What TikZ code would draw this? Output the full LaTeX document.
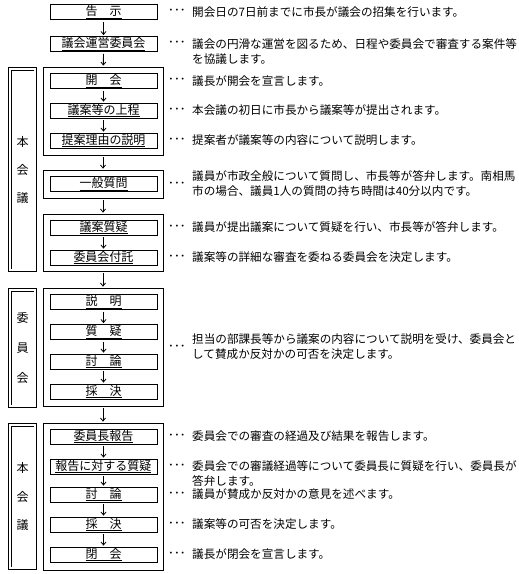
\documentclass[tikz,border=0pt]{standalone}
\usepackage{fontspec}
\newfontfamily\jp{Noto Sans CJK JP}
\usetikzlibrary{arrows.meta}
\begin{document}
\begin{tikzpicture}[x=1pt,y=-1pt,
  stepbox/.style={draw, line width=0.8pt, minimum width=107pt, minimum height=15pt,
    inner sep=0pt, font=\jp\fontsize{12}{12}\selectfont},
  grpbox/.style={draw, line width=0.8pt, minimum width=120pt, inner sep=0pt},
  lblbox/.style={draw, line width=0.7pt, double, double distance=2pt,
    minimum width=25.4pt, inner sep=0pt, align=center},
  dots/.style={anchor=west, inner sep=0pt, font=\jp\fontsize{11.6}{15}\selectfont},
  desc/.style={anchor=west, inner sep=0pt, align=left, font=\jp\fontsize{11.6}{15}\selectfont},
  flow/.style={line width=0.8pt, -{Straight Barb[length=3pt,width=5pt]}, shorten <=2pt, shorten >=1pt}
]
\useasboundingbox (0,0) rectangle (519,574);
\fill[white] (0,0) rectangle (519,574);

% groups
\node[grpbox, minimum height=88pt]  (g1) at (103,111) {};
\node[grpbox, minimum height=28pt]  (g2) at (103,184) {};
\node[grpbox, minimum height=57pt]  (g3) at (103,242.5) {};
\node[grpbox, minimum height=118pt] (g4) at (103,347) {};
\node[grpbox, minimum height=147pt] (g5) at (103,496.5) {};

% left labels
\node[lblbox, minimum height=201.4pt, font=\jp\fontsize{12}{28}\selectfont] (l1) at (22.5,169.5) {本\\会\\議};
\node[lblbox, minimum height=116.4pt, font=\jp\fontsize{12}{30}\selectfont] (l2) at (22.5,348) {委\\員\\会};
\node[lblbox, minimum height=143.4pt, font=\jp\fontsize{12}{28.5}\selectfont] (l3) at (22.5,496.5) {本\\会\\議};

% steps
\node[stepbox] (s1)  at (103.5,12)    {\underline{告　示}};
\node[stepbox] (s2)  at (103.5,44)    {\underline{議会運営委員会}};
\node[stepbox] (s3)  at (103.5,81)    {\underline{開　会}};
\node[stepbox] (s4)  at (103.5,110.5) {\underline{議案等の上程}};
\node[stepbox] (s5)  at (103.5,140.5) {\underline{提案理由の説明}};
\node[stepbox] (s6)  at (103.5,184)   {\underline{一般質問}};
\node[stepbox] (s7)  at (103.5,227.5) {\underline{議案質疑}};
\node[stepbox] (s8)  at (103.5,257.5) {\underline{委員会付託}};
\node[stepbox] (s9)  at (103.5,302)   {\underline{説　明}};
\node[stepbox] (s10) at (103.5,332)   {\underline{質　疑}};
\node[stepbox] (s11) at (103.5,361.5) {\underline{討　論}};
\node[stepbox] (s12) at (103.5,391.5) {\underline{採　決}};
\node[stepbox] (s13) at (103.5,436.5) {\underline{委員長報告}};
\node[stepbox] (s14) at (103.5,466.5) {\underline{報告に対する質疑}};
\node[stepbox] (s15) at (103.5,494.5) {\underline{討　論}};
\node[stepbox] (s16) at (103.5,524.5) {\underline{採　決}};
\node[stepbox] (s17) at (103.5,554.5) {\underline{閉　会}};

% arrows
\draw[flow] (s1) -- (s2);
\draw[flow] (s2) -- (g1);
\draw[flow] (s3) -- (s4);
\draw[flow] (s4) -- (s5);
\draw[flow] (g1) -- (g2);
\draw[flow] (g2) -- (g3);
\draw[flow] (s7) -- (s8);
\draw[flow] (g3) -- (g4);
\draw[flow] (s9) -- (s10);
\draw[flow] (s10) -- (s11);
\draw[flow] (s11) -- (s12);
\draw[flow] (g4) -- (g5);
\draw[flow] (s13) -- (s14);
\draw[flow] (s14) -- (s15);
\draw[flow] (s15) -- (s16);
\draw[flow] (s16) -- (s17);

% descriptions
\node[dots] (d1)  at (168,12)    {･･･};
\node[desc] (t1)  at (192,12)    {開会日の7日前までに市長が議会の招集を行います。};
\node[dots] (d2)  at (168,44)    {･･･};
\node[desc] (t2)  at (192,51.5)  {議会の円滑な運営を図るため、日程や委員会で審査する案件等\\を協議します。};
\node[dots] (d3)  at (168,81)    {･･･};
\node[desc] (t3)  at (192,81)    {議長が開会を宣言します。};
\node[dots] (d4)  at (168,110.5) {･･･};
\node[desc] (t4)  at (192,110.5) {本会議の初日に市長から議案等が提出されます。};
\node[dots] (d5)  at (168,140.5) {･･･};
\node[desc] (t5)  at (192,140.5) {提案者が議案等の内容について説明します。};
\node[dots] (d6)  at (168,185)   {･･･};
\node[desc] (t6)  at (192,184)   {議員が市政全般について質問し、市長等が答弁します。南相馬\\市の場合、議員1人の質問の持ち時間は40分以内です。};
\node[dots] (d7)  at (168,227.5) {･･･};
\node[desc] (t7)  at (192,227.5) {議員が提出議案について質疑を行い、市長等が答弁します。};
\node[dots] (d8)  at (168,257.5) {･･･};
\node[desc] (t8)  at (192,257.5) {議案等の詳細な審査を委ねる委員会を決定します。};
\node[dots] (d9)  at (168,348)   {･･･};
\node[desc] (t9)  at (192,347)   {担当の部課長等から議案の内容について説明を受け、委員会と\\して賛成か反対かの可否を決定します。};
\node[dots] (d10) at (168,436.5) {･･･};
\node[desc] (t10) at (192,436.5) {委員会での審査の経過及び結果を報告します。};
\node[dots] (d11) at (168,466.5) {･･･};
\node[desc] (t11) at (192,474)   {委員会での審議経過等について委員長に質疑を行い、委員長が\\答弁します。};
\node[dots] (d12) at (168,494.5) {･･･};
\node[desc] (t12) at (192,494.5) {議員が賛成か反対かの意見を述べます。};
\node[dots] (d13) at (168,524.5) {･･･};
\node[desc] (t13) at (192,524.5) {議案等の可否を決定します。};
\node[dots] (d14) at (168,554.5) {･･･};
\node[desc] (t14) at (192,554.5) {議長が閉会を宣言します。};
\end{tikzpicture}
\end{document}
